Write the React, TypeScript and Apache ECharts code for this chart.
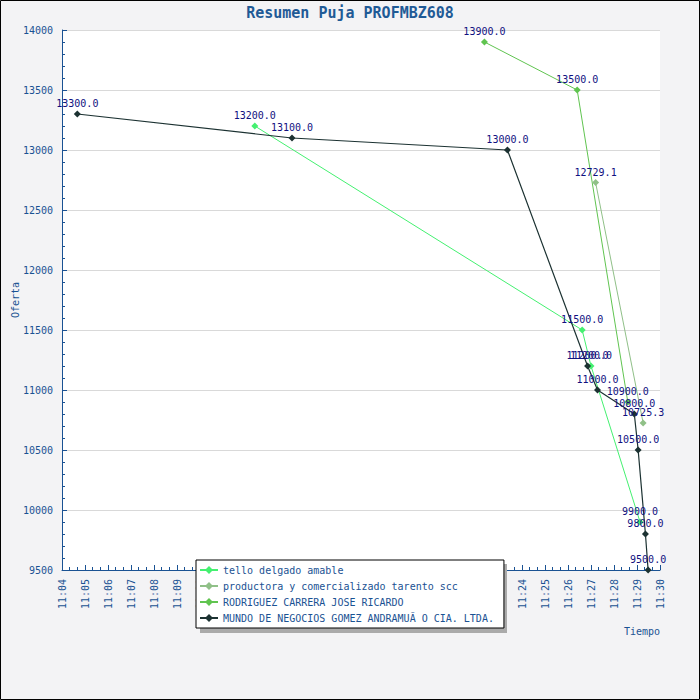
import React, { useEffect, useRef } from "react";
import * as echarts from "echarts";

const xStart = "11:04:00";
const xEnd = "11:30:00";
const yMin = 9500;
const yMax = 14000;

const telloName = "tello delgado amable";
const telloTimes = ["11:12:23", "11:26:37", "11:27:00", "11:29:08"];
const telloValues = [13200, 11500, 11200, 9900];

const productoraName = "productora y comercializado tarento scc";
const productoraTimes = ["11:27:12", "11:29:16"];
const productoraValues = [12729.1, 10725.3];

const rodriguezName = "RODRIGUEZ CARRERA JOSE RICARDO";
const rodriguezTimes = ["11:22:22", "11:26:24", "11:28:36"];
const rodriguezValues = [13900, 13500, 10900];

const mundoName = "MUNDO DE NEGOCIOS GOMEZ ANDRAMUÃ O CIA. LTDA.";
const mundoTimes = [
  "11:04:40", "11:14:00", "11:23:22", "11:26:51", "11:27:17",
  "11:28:53", "11:29:03", "11:29:22", "11:29:29",
];
const mundoValues = [13300, 13100, 13000, 11200, 11000, 10800, 10500, 9800, 9500];

const toSec = (t: string) => {
  const [h, m, s] = t.split(":").map(Number);
  return h * 3600 + m * 60 + (s || 0);
};
const pad = (n: number) => (n < 10 ? "0" + n : "" + n);
const fmtMin = (v: number) => `${Math.floor(v / 3600)}:${pad(Math.floor((v % 3600) / 60))}`;

const FONT = "DejaVu Sans Mono";
const BLUE = "#1a5293";
const NAVY = "#10107f";

const mk = (name: string, times: string[], values: number[], color: string, width: number) => ({
  name,
  type: "line",
  data: times.map((t, i) => [toSec(t), values[i]]),
  symbol: "diamond",
  symbolSize: 7,
  showSymbol: true,
  lineStyle: { color, width },
  itemStyle: { color },
  label: {
    show: true,
    position: "top",
    distance: 2,
    formatter: (p: any) => Number(p.value[1]).toFixed(1),
    color: NAVY,
    fontFamily: FONT,
    fontSize: 10,
  },
  z: 3,
});

export default function App() {
  const ref = useRef<HTMLDivElement>(null);
  useEffect(() => {
    if (!ref.current) return;
    const chart = echarts.init(ref.current, undefined, { renderer: "svg" });
    chart.setOption({
      animation: false,
      backgroundColor: "#f3f3f5",
      title: {
        text: "Resumen Puja PROFMBZ608",
        left: "center",
        top: 5,
        padding: 0,
        textStyle: { fontFamily: FONT, fontSize: 15, fontWeight: "bold", color: "#1f5a96" },
      },
      grid: {
        left: 62,
        right: 40,
        top: 30,
        bottom: 130,
        show: true,
        backgroundColor: "#ffffff",
        borderWidth: 0,
        containLabel: false,
        outerBoundsMode: "none",
      },
      graphic: [
        {
          type: "rect",
          shape: { x: 0.5, y: 0.5, width: 699, height: 699 },
          style: { fill: "none", stroke: "#000", lineWidth: 1 },
          z: 100,
          silent: true,
        },
        {
          type: "rect",
          shape: { x: 200, y: 564, width: 307, height: 69 },
          style: { fill: "#aaaaaa" },
          z: 5,
          silent: true,
        },
      ],
      legend: {
        orient: "vertical",
        left: 196,
        top: 560,
        padding: [5, 10, 5, 3],
        itemWidth: 18,
        itemHeight: 10,
        itemGap: 6,
        backgroundColor: "#ffffff",
        borderColor: "#000",
        borderWidth: 1,
        z: 10,
        textStyle: { fontFamily: FONT, fontSize: 10, color: BLUE, lineHeight: 10 },
        data: [telloName, productoraName, rodriguezName, mundoName],
      },
      xAxis: {
        type: "value",
        min: toSec(xStart),
        max: toSec(xEnd),
        interval: 60,
        name: "Tiempo",
        nameLocation: "end",
        nameGap: 0,
        nameMoveOverlap: false,
        nameTextStyle: {
          fontFamily: FONT,
          fontSize: 10,
          color: BLUE,
          align: "right",
          verticalAlign: "top",
          padding: [56, 0, 0, 0],
        },
        axisLine: { show: true, lineStyle: { color: BLUE, width: 1 } },
        axisTick: { show: true, inside: true, length: 5, lineStyle: { color: BLUE } },
        minorTick: { show: true, splitNumber: 3, length: 3, lineStyle: { color: BLUE } },
        axisLabel: {
          rotate: 90,
          margin: 9,
          fontFamily: FONT,
          fontSize: 10,
          color: BLUE,
          formatter: (v: number) => fmtMin(v),
        },
        splitLine: { show: false },
      },
      yAxis: {
        type: "value",
        min: yMin,
        max: yMax,
        interval: 500,
        name: "Oferta",
        nameLocation: "middle",
        nameGap: 42,
        nameMoveOverlap: false,
        nameTextStyle: { fontFamily: FONT, fontSize: 10, color: BLUE },
        axisLine: { show: true, lineStyle: { color: BLUE, width: 1 } },
        axisTick: { show: true, inside: true, length: 5, lineStyle: { color: BLUE } },
        minorTick: { show: true, splitNumber: 5, length: 3, lineStyle: { color: BLUE } },
        axisLabel: {
          margin: 9,
          fontFamily: FONT,
          fontSize: 10,
          color: BLUE,
          formatter: (v: number) => String(v),
        },
        splitLine: { show: true, lineStyle: { color: "#d9d9d9", width: 1 } },
      },
      series: [
        mk(telloName, telloTimes, telloValues, "#44f070", 1),
        mk(productoraName, productoraTimes, productoraValues, "#90c088", 1),
        mk(rodriguezName, rodriguezTimes, rodriguezValues, "#60c450", 1),
        mk(mundoName, mundoTimes, mundoValues, "#1c3232", 1.2),
      ],
    });
    return () => chart.dispose();
  }, []);
  return (
    <div
      ref={ref}
      style={{ position: "fixed", left: 0, top: 0, width: 700, height: 700 }}
    />
  );
}
